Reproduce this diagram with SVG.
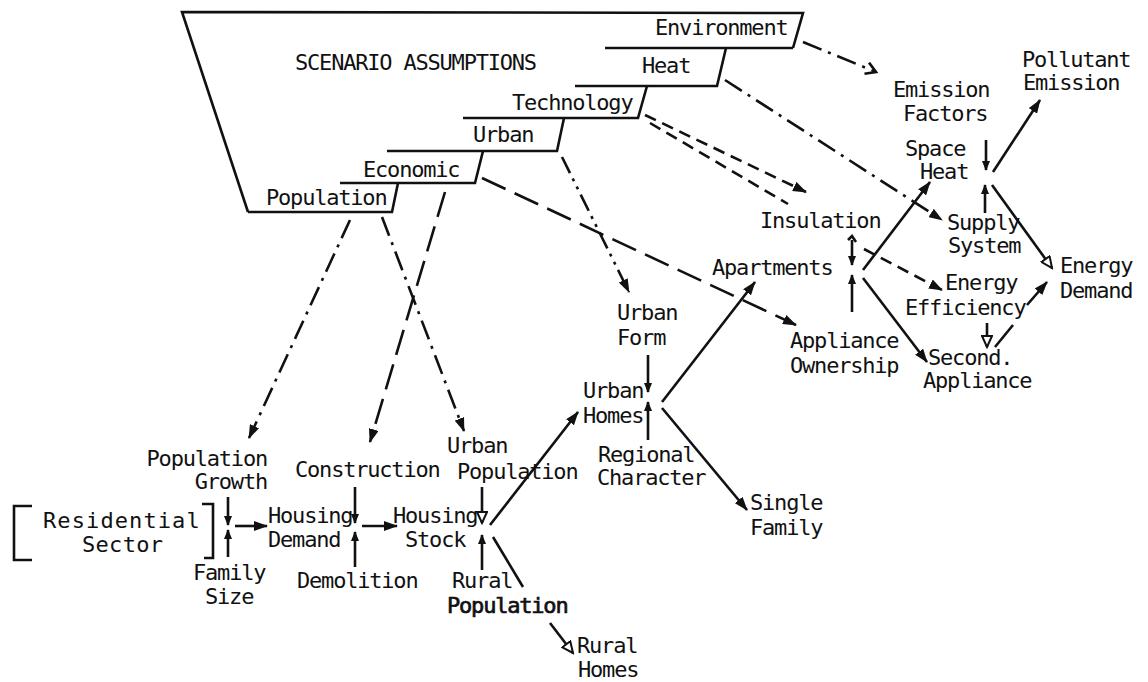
<svg xmlns="http://www.w3.org/2000/svg" width="1148" height="682" viewBox="0 0 1148 682">
  <defs>
    <style>
      text { font-family: "DejaVu Sans Mono", "Liberation Mono", monospace; font-size: 22px; letter-spacing: -1.2px; fill: #111; }
      .box { fill: none; stroke: #111; stroke-width: 2.6; stroke-linejoin: miter; }
      .c { fill: none; stroke: #111; stroke-width: 2.6; stroke-linecap: butt; }
      .dd { stroke-dasharray: 20 7 3 7; }
      .d2 { stroke-dasharray: 18 6 3 6 3 6; }
      .ld { stroke-dasharray: 26 10; }
      .sd { stroke-dasharray: 12 7; }
    </style>
    <marker id="ah" markerUnits="userSpaceOnUse" markerWidth="14" markerHeight="10" refX="13" refY="5" orient="auto">
      <path d="M0,0 L14,5 L0,10 z" fill="#111"/>
    </marker>
    <marker id="ahs" markerUnits="userSpaceOnUse" markerWidth="10" markerHeight="8" refX="9" refY="4" orient="auto">
      <path d="M0,0 L10,4 L0,8 z" fill="#111"/>
    </marker>
    <marker id="aho" markerUnits="userSpaceOnUse" markerWidth="14" markerHeight="12" refX="12" refY="6" orient="auto">
      <path d="M1,1 L12,6 L1,11 z" fill="#fff" stroke="#111" stroke-width="2"/>
    </marker>
    <marker id="ahv" markerUnits="userSpaceOnUse" markerWidth="14" markerHeight="14" refX="11" refY="7" orient="auto">
      <path d="M1,1 L11,7 L1,13" fill="none" stroke="#111" stroke-width="2.6"/>
    </marker>
  </defs>

  <!-- scenario assumption block -->
  <g id="scenario-frame">
    <path class="box" d="M248,212 L182,12 L803,13 L793,48"/>
    <text x="295" y="70">SCENARIO ASSUMPTIONS</text>
  </g>
  <g id="box-environment">
    <path class="box" d="M605,48 L793,48"/>
    <text x="655" y="35">Environment</text>
  </g>
  <g id="box-heat">
    <path class="box" d="M726,48 L717,86 L575,86"/>
    <text x="642" y="73">Heat</text>
  </g>
  <g id="box-technology">
    <path class="box" d="M647,86 L638,118 L463,118"/>
    <text x="512" y="110">Technology</text>
  </g>
  <g id="box-urban">
    <path class="box" d="M564,118 L557,151 L387,151"/>
    <text x="473" y="142">Urban</text>
  </g>
  <g id="box-economic">
    <path class="box" d="M483,151 L475,183 L340,183"/>
    <text x="363" y="177">Economic</text>
  </g>
  <g id="box-population">
    <path class="box" d="M398,183 L392,212 L248,212"/>
    <text x="266" y="205">Population</text>
  </g>

  <!-- residential sector -->
  <g id="residential-sector">
    <path class="box" d="M32,506 L14,506 L14,560 L32,560"/>
    <path class="box" d="M202,504 L213,504 L213,558 L204,558"/>
    <text x="43" y="528" style="letter-spacing:1.1px">Residential</text>
    <text x="82" y="552" style="letter-spacing:0.3px">Sector</text>
  </g>
  <g id="population-growth">
    <text x="267" y="466" text-anchor="end">Population</text>
    <text x="267" y="489" text-anchor="end">Growth</text>
  </g>
  <g id="family-size">
    <text x="193" y="580">Family</text>
    <text x="205" y="604">Size</text>
  </g>
  <g id="housing-demand">
    <text x="268" y="523">Housing</text>
    <text x="268" y="547">Demand</text>
  </g>
  <g id="construction"><text x="295" y="477">Construction</text></g>
  <g id="demolition"><text x="297" y="588">Demolition</text></g>
  <g id="housing-stock">
    <text x="393" y="523">Housing</text>
    <text x="405" y="547">Stock</text>
  </g>
  <g id="urban-population">
    <text x="447" y="453">Urban</text>
    <text x="457" y="479">Population</text>
  </g>
  <g id="rural-population">
    <text x="452" y="588">Rural</text>
    <text x="447" y="613" stroke="#111" stroke-width="0.7">Population</text>
  </g>
  <g id="rural-homes">
    <text x="577" y="653">Rural</text>
    <text x="578" y="677">Homes</text>
  </g>
  <g id="urban-form">
    <text x="617" y="320">Urban</text>
    <text x="617" y="345">Form</text>
  </g>
  <g id="urban-homes">
    <text x="583" y="398">Urban</text>
    <text x="583" y="423">Homes</text>
  </g>
  <g id="regional-character">
    <text x="598" y="462">Regional</text>
    <text x="597" y="485">Character</text>
  </g>
  <g id="single-family">
    <text x="750" y="510">Single</text>
    <text x="750" y="535">Family</text>
  </g>
  <g id="apartments"><text x="712" y="275">Apartments</text></g>
  <g id="insulation"><text x="760" y="228">Insulation</text></g>
  <g id="appliance-ownership">
    <text x="790" y="348">Appliance</text>
    <text x="790" y="373">Ownership</text>
  </g>
  <g id="second-appliance">
    <text x="928" y="365">Second.</text>
    <text x="923" y="388">Appliance</text>
  </g>
  <g id="space-heat">
    <text x="905" y="156">Space</text>
    <text x="920" y="179">Heat</text>
  </g>
  <g id="supply-system">
    <text x="947" y="230">Supply</text>
    <text x="948" y="253">System</text>
  </g>
  <g id="energy-efficiency">
    <text x="945" y="290">Energy</text>
    <text x="905" y="315">Efficiency</text>
  </g>
  <g id="energy-demand">
    <text x="1060" y="273">Energy</text>
    <text x="1060" y="298">Demand</text>
  </g>
  <g id="emission-factors">
    <text x="893" y="97">Emission</text>
    <text x="903" y="121">Factors</text>
  </g>
  <g id="pollutant-emission">
    <text x="1022" y="67">Pollutant</text>
    <text x="1023" y="90">Emission</text>
  </g>

  <!-- connectors -->
  <g id="connectors">
    <!-- scenario influences -->
    <path class="c dd" d="M350,220 L249,438" marker-end="url(#ah)"/>
    <path class="c dd" d="M382,217 L464,431" marker-end="url(#ah)"/>
    <path class="c ld" d="M445,192 L370,442" marker-end="url(#ah)"/>
    <path class="c ld" d="M482,178 L796,325" marker-end="url(#ah)"/>
    <path class="c d2" d="M562,157 L629,292" marker-end="url(#ah)"/>
    <path class="c sd" d="M645,115 L806,192" marker-end="url(#ah)"/>
    <path class="c sd" d="M650,123 L788,204"/>
    <path class="c sd" d="M864,249 L942,290" marker-end="url(#ah)"/>
    <path class="c dd" d="M725,80 L942,220" marker-end="url(#ah)"/>
    <path class="c dd" d="M803,42 L876,72" marker-end="url(#ahv)"/>

    <!-- housing chain -->
    <path class="c" d="M228,497 L228,525" marker-end="url(#ahs)"/>
    <path class="c" d="M228,557 L228,530" marker-end="url(#ahs)"/>
    <path class="c" d="M235,526 L267,526" marker-end="url(#ah)"/>
    <path class="c" d="M355,487 L355,523" marker-end="url(#ahs)"/>
    <path class="c" d="M355,567 L355,532" marker-end="url(#ahs)"/>
    <path class="c" d="M362,526 L397,526" marker-end="url(#ah)"/>
    <path class="c" d="M482,487 L482,523" marker-end="url(#aho)"/>
    <path class="c" d="M482,570 L482,535" marker-end="url(#ahs)"/>
    <path class="c" d="M490,525 L578,412" marker-end="url(#ah)"/>
    <path class="c" d="M493,537 L523,587"/>
    <path class="c" d="M550,623 L573,653" marker-end="url(#aho)"/>

    <!-- urban homes -->
    <path class="c" d="M648,355 L648,392" marker-end="url(#ahs)"/>
    <path class="c" d="M648,440 L648,402" marker-end="url(#ahs)"/>
    <path class="c" d="M662,402 L755,282" marker-end="url(#ah)"/>
    <path class="c" d="M662,408 L747,510" marker-end="url(#ah)"/>

    <!-- apartments -->
    <path class="c" d="M852,240 L852,265" marker-end="url(#ahs)"/>
    <path class="c" d="M848,240 L852,236 L856,242" stroke-width="2"/>
    <path class="c" d="M852,312 L852,275" marker-end="url(#ahs)"/>
    <path class="c" d="M863,270 L930,182" marker-end="url(#ah)"/>
    <path class="c" d="M863,278 L927,362" marker-end="url(#ah)"/>

    <!-- energy -->
    <path class="c" d="M987,323 L987,347" marker-end="url(#aho)"/>
    <path class="c" d="M995,347 L1013,325"/>
    <path class="c" d="M1027,305 L1047,282" marker-end="url(#ah)"/>
    <path class="c" d="M986,140 L986,170" marker-end="url(#ahs)"/>
    <path class="c" d="M985,213 L985,185" marker-end="url(#ahs)"/>
    <path class="c" d="M993,172 L1040,100" marker-end="url(#ah)"/>
    <path class="c" d="M992,185 L1052,268" marker-end="url(#aho)"/>
  </g>
</svg>
